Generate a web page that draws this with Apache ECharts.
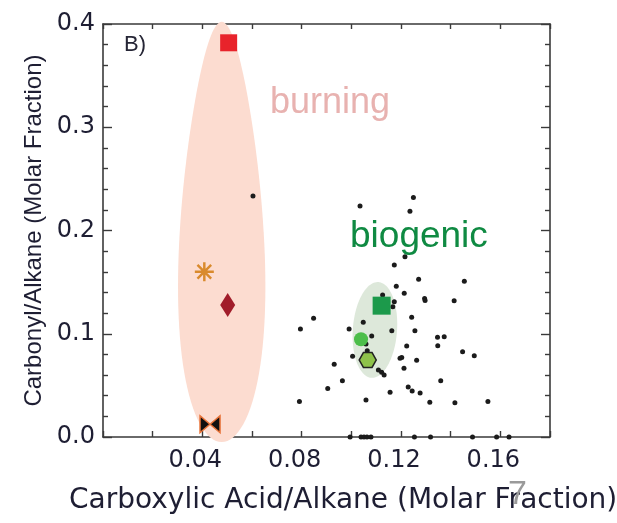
<!DOCTYPE html>
<html>
<head>
<meta charset="utf-8">
<script src="https://cdn.jsdelivr.net/npm/echarts@6/dist/echarts.min.js"></script>
<style>
  html, body { margin: 0; padding: 0; background: #ffffff; }
  #chart { width: 617px; height: 523px; }
</style>
</head>
<body>
<div id="chart"></div>
<script>
// Ambient samples: carboxylic acid / alkane (x) against carbonyl / alkane (y)
const ambientX = [
  0.0604, 0.1035, 0.1250, 0.1236, 0.1216, 0.1173, 0.1271, 0.1455, 0.1181, 0.1213,
  0.1126, 0.1295, 0.1297, 0.1414, 0.1173, 0.1167, 0.1243, 0.0848, 0.0795, 0.0991,
  0.1048, 0.1163, 0.1256, 0.1082, 0.1347, 0.1374, 0.1348, 0.1223, 0.1059, 0.1064,
  0.1448, 0.1495, 0.1005, 0.1196, 0.1203, 0.1263, 0.0931, 0.1212, 0.1109, 0.1122,
  0.1132, 0.0964, 0.1360, 0.0905, 0.1229, 0.1156, 0.1245, 0.1277, 0.1059, 0.0791,
  0.1316, 0.1417, 0.1550,
  0.0995, 0.1039, 0.1051, 0.1063, 0.1079, 0.1254, 0.1319, 0.1488, 0.1585, 0.1635
];
const ambientY = [
  0.2334, 0.2237, 0.2320, 0.2186, 0.1746, 0.1666, 0.1527, 0.1509, 0.1460, 0.1392,
  0.1375, 0.1341, 0.1322, 0.1320, 0.1310, 0.1262, 0.1159, 0.1151, 0.1046, 0.1046,
  0.1112, 0.1030, 0.1029, 0.0978, 0.0966, 0.0971, 0.0884, 0.0881, 0.0901, 0.0836,
  0.0826, 0.0787, 0.0783, 0.0762, 0.0769, 0.0743, 0.0705, 0.0665, 0.0649, 0.0627,
  0.0600, 0.0545, 0.0545, 0.0470, 0.0484, 0.0433, 0.0446, 0.0426, 0.0358, 0.0344,
  0.0336, 0.0332, 0.0344,
  0, 0, 0, 0, 0, 0, 0, 0, 0, 0
];

// Source profiles [x, y]
const burningSquare   = [0.0506, 0.3818];
const burningAsterisk = [0.0408, 0.1600];
const burningDiamond  = [0.0502, 0.1279];
const burningBowtie   = [0.0431, 0.0123];
const biogenicSquare  = [0.1122, 0.1272];
const biogenicCircle  = [0.1039, 0.0947];
const biogenicHexagon = [0.1066, 0.0746];

// Source regions: [centre x, centre y, half-width, half-height, tilt (deg), taper]
// taper > 0 narrows the upper half and widens the lower half (egg outline)
const burningRegion  = [0.0478, 0.1986, 0.0169, 0.2035, 0, 0.3];
const biogenicRegion = [0.1095, 0.1037, 0.0089, 0.0465, 4.2, 0];

// Axis ranges and tick spacing
const xRange = [0, 0.18];
const xTickStep = 0.02;
const xLabelValues = [0.04, 0.08, 0.12, 0.16];
const yRange = [0, 0.4];
const yTickStep = 0.1;

const SANS = 'Liberation Sans, Arial, sans-serif';
const WIDE = 'DejaVu Sans, Verdana, sans-serif';

const asteriskPath = 'path://M8.7,0 L11.3,0 L11.3,20 L8.7,20 Z M0,8.7 L20,8.7 L20,11.3 L0,11.3 Z ' +
  'M1.9,3.7 L3.7,1.9 L18.1,16.3 L16.3,18.1 Z M16.3,1.9 L18.1,3.7 L3.7,18.1 L1.9,16.3 Z';
const bowtiePath = 'path://M0,0 L10,8 L0,16 Z M20,0 L10,8 L20,16 Z';
const hexagonPath = 'path://M5,0 L15,0 L20,8.66 L15,17.32 L5,17.32 L0,8.66 Z';

// Outline of a source region, built in pixel space from the axis scales
function regionRenderer(region, fill) {
  return function (params, api) {
    const c = api.coord([region[0], region[1]]);
    const rx = api.size([region[2], 0])[0];
    const ry = api.size([0, region[3]])[1];
    const th = region[4] * Math.PI / 180;
    const taper = region[5];
    const pts = [];
    const n = 120;
    for (let i = 0; i < n; i++) {
      const t = i / n * Math.PI * 2;
      const ey = ry * Math.sin(t);
      const ex = rx * Math.cos(t) * (1 + taper * Math.sin(t));
      pts.push([c[0] + ex * Math.cos(th) - ey * Math.sin(th),
                c[1] + ex * Math.sin(th) + ey * Math.cos(th)]);
    }
    return { type: 'polygon', shape: { points: pts }, style: { fill: fill } };
  };
}

function marker(point, symbol, size, style, z) {
  return {
    type: 'scatter', data: [point], symbol: symbol, symbolSize: size,
    itemStyle: Object.assign({ opacity: 1 }, style), z: z, clip: false, silent: true
  };
}

const axisLineStyle = { color: '#3a3a3a', width: 1.6 };
const tickStyle = { color: '#3a3a3a', width: 1.4 };

const chart = echarts.init(document.getElementById('chart'), null, { renderer: 'canvas' });

chart.setOption({
  animation: false,
  backgroundColor: '#ffffff',
  grid: { left: 103, right: 67, top: 24, bottom: 86 },
  xAxis: [
    {
      type: 'value', position: 'bottom', min: xRange[0], max: xRange[1], interval: xTickStep,
      axisLine: { show: true, onZero: false, lineStyle: axisLineStyle },
      axisTick: { show: true, inside: true, length: 6, lineStyle: tickStyle },
      axisLabel: {
        show: true, margin: 12, fontSize: 24, fontFamily: WIDE, color: '#1e1e33',
        padding: [0, 14, 0, 0],
        formatter: function (v) {
          return xLabelValues.some(function (t) { return Math.abs(t - v) < 1e-9; }) ? v.toFixed(2) : '';
        }
      },
      splitLine: { show: false }
    },
    {
      type: 'value', position: 'top', min: xRange[0], max: xRange[1], interval: xTickStep,
      axisLine: { show: true, onZero: false, lineStyle: axisLineStyle },
      axisTick: { show: true, inside: true, length: 5, lineStyle: tickStyle },
      axisLabel: { show: false },
      splitLine: { show: false }
    }
  ],
  yAxis: [
    {
      type: 'value', position: 'left', min: yRange[0], max: yRange[1], interval: yTickStep,
      name: 'Carbonyl/Alkane (Molar Fraction)', nameLocation: 'middle', nameGap: 56,
      nameTextStyle: { fontSize: 24, fontFamily: SANS, color: '#1e1e33' },
      axisLine: { show: true, onZero: false, lineStyle: axisLineStyle },
      axisTick: { show: true, inside: true, length: 9, lineStyle: tickStyle },
      minorTick: { show: true, splitNumber: 5, length: 5, lineStyle: tickStyle },
      axisLabel: {
        show: true, margin: 8, fontSize: 24, fontFamily: WIDE, color: '#1e1e33',
        formatter: function (v) { return v.toFixed(1); }
      },
      splitLine: { show: false }
    },
    {
      type: 'value', position: 'right', min: yRange[0], max: yRange[1], interval: yTickStep,
      axisLine: { show: true, onZero: false, lineStyle: axisLineStyle },
      axisTick: { show: true, inside: true, length: 9, lineStyle: tickStyle },
      minorTick: { show: true, splitNumber: 5, length: 5, lineStyle: tickStyle },
      axisLabel: { show: false },
      splitLine: { show: false }
    }
  ],
  graphic: [
    { type: 'text', left: 124, top: 34, z: 10,
      style: { text: 'B)', font: '22px ' + SANS, fill: '#262636' } },
    { type: 'text', left: 270, top: 85, z: 10,
      style: { text: 'burning', font: '36px ' + SANS, fill: '#e8b2b0' } },
    { type: 'text', left: 350, top: 218, z: 10,
      style: { text: 'biogenic', font: '37px ' + SANS, fill: '#0f8a42' } },
    { type: 'text', left: 69, top: 487, z: 10,
      style: { text: 'Carboxylic Acid/Alkane (Molar Fraction)', font: '28px ' + WIDE, fill: '#1e1e33' } },
    { type: 'text', left: 508, top: 478, z: 11,
      style: { text: '7', font: '34px ' + SANS, fill: '#9a9a9a' } }
  ],
  series: [
    {
      type: 'custom', data: [[burningRegion[0], burningRegion[1]]],
      renderItem: regionRenderer(burningRegion, '#fcdcd0'),
      encode: { x: 0, y: 1 }, clip: false, silent: true, z: 1
    },
    {
      type: 'custom', data: [[biogenicRegion[0], biogenicRegion[1]]],
      xAxisIndex: 1, yAxisIndex: 1,
      renderItem: regionRenderer(biogenicRegion, '#dde8da'),
      encode: { x: 0, y: 1 }, clip: false, silent: true, z: 1
    },
    {
      type: 'scatter',
      data: ambientX.map(function (x, i) { return [x, ambientY[i]]; }),
      symbol: 'circle', symbolSize: 5,
      itemStyle: { color: '#1b1b1b', opacity: 1 },
      clip: false, silent: true, z: 3
    },
    marker(burningSquare, 'rect', 17, { color: '#e8232b' }, 5),
    marker(burningAsterisk, asteriskPath, 19, { color: '#d98a2c' }, 5),
    marker(burningDiamond, 'diamond', [15, 24], { color: '#a11d2a' }, 5),
    marker(burningBowtie, bowtiePath, [20, 17], { color: '#111111', borderColor: '#e8743a', borderWidth: 1.4 }, 5),
    marker(biogenicSquare, 'rect', 18, { color: '#1c9a4b' }, 5),
    marker(biogenicCircle, 'circle', 14, { color: '#4cbe4a' }, 5),
    marker(biogenicHexagon, hexagonPath, [17, 15], { color: '#8ec24a', borderColor: '#222222', borderWidth: 1.5 }, 5)
  ]
});
</script>
</body>
</html>
